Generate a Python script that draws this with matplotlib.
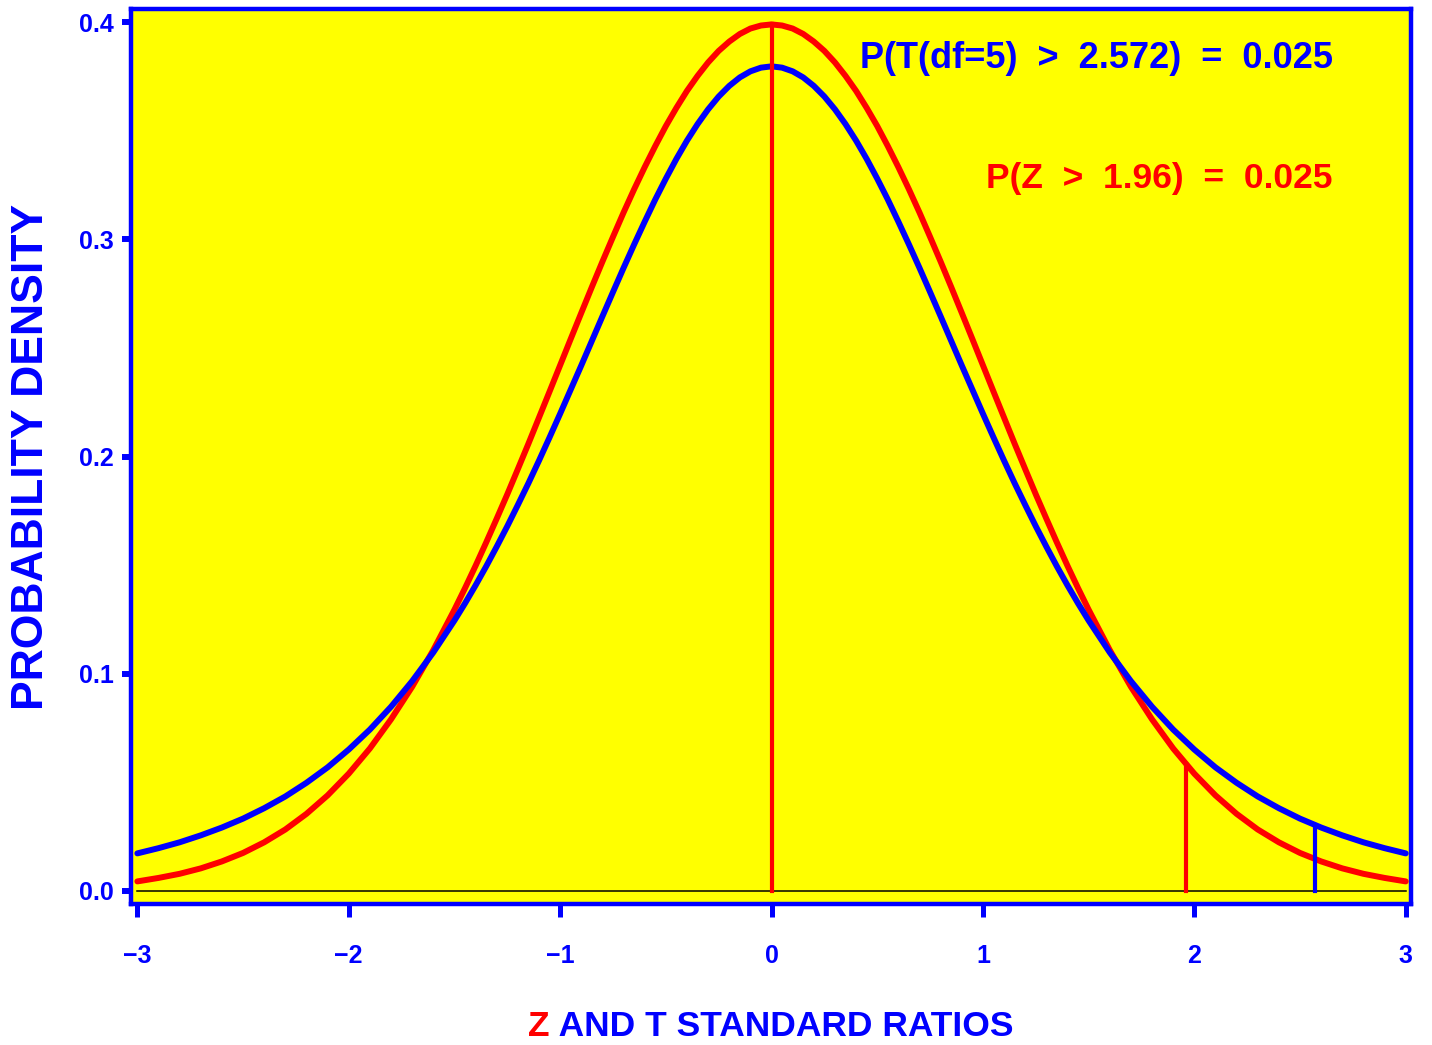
import matplotlib
matplotlib.use("Agg")
import matplotlib.pyplot as plt

#--------------------------------------------------------------------------------------
#Data
z_vals=[-3.0,-2.9,-2.8,-2.7,-2.6,-2.5,-2.4,-2.3,-2.2,-2.1,-2.0,-1.9,-1.8,-1.7,-1.6,
        -1.5,-1.45,-1.4,-1.35,-1.3,-1.25,-1.2,-1.15,-1.1,-1.05,-1.0,-0.95,-0.9,-0.85,
        -0.8,-0.75,-0.7,-0.65,-0.6,-0.55,-0.5,-0.45,-0.4,-0.35,-0.3,-0.25,-0.2,-0.15,
        -0.1,-0.05,0.0,0.05,0.1,0.15,0.2,0.25,0.3,0.35,0.4,0.45,0.5,0.55,0.6,0.65,0.7,
        0.75,0.8,0.85,0.9,0.95,1.0,1.05,1.1,1.15,1.2,1.25,1.3,1.35,1.4,1.45,1.5,
        1.6,1.7,1.8,1.9,2.0,2.1,2.2,2.3,2.4,2.5,2.6,2.7,2.8,2.9,3.0]
normal_dens=[0.0044,0.0060,0.0079,0.0104,0.0136,0.0175,0.0224,0.0283,0.0355,0.0440,
             0.0540,0.0656,0.0790,0.0940,0.1109,
             0.1295,0.1394,0.1497,0.1604,0.1714,0.1826,0.1942,0.2059,0.2179,0.2299,
             0.2420,0.2541,0.2661,0.2780,0.2897,0.3011,0.3123,0.3230,0.3332,0.3429,
             0.3521,0.3605,0.3683,0.3752,0.3814,0.3867,0.3910,0.3945,0.3970,0.3984,
             0.3989,
             0.3984,0.3970,0.3945,0.3910,0.3867,0.3814,0.3752,0.3683,0.3605,0.3521,
             0.3429,0.3332,0.3230,0.3123,0.3011,0.2897,0.2780,0.2661,0.2541,0.2420,
             0.2299,0.2179,0.2059,0.1942,0.1826,0.1714,0.1604,0.1497,0.1394,0.1295,
             0.1109,0.0940,0.0790,0.0656,0.0540,0.0440,0.0355,0.0283,0.0224,0.0175,
             0.0136,0.0104,0.0079,0.0060,0.0044]
t5_dens=[0.0173,0.0197,0.0224,0.0256,0.0292,0.0333,0.0381,0.0435,0.0498,0.0569,
         0.0651,0.0743,0.0848,0.0966,0.1098,
         0.1245,0.1324,0.1407,0.1494,0.1585,0.1679,0.1777,0.1877,0.1981,0.2088,
         0.2197,0.2308,0.2419,0.2532,0.2645,0.2757,0.2868,0.2976,0.3081,0.3183,
         0.3279,0.3370,0.3454,0.3530,0.3598,0.3657,0.3706,0.3745,0.3773,0.3790,
         0.3796,
         0.3790,0.3773,0.3745,0.3706,0.3657,0.3598,0.3530,0.3454,0.3370,0.3279,
         0.3183,0.3081,0.2976,0.2868,0.2757,0.2645,0.2532,0.2419,0.2308,0.2197,
         0.2088,0.1981,0.1877,0.1777,0.1679,0.1585,0.1494,0.1407,0.1324,0.1245,
         0.1098,0.0966,0.0848,0.0743,0.0651,0.0569,0.0498,0.0435,0.0381,0.0333,
         0.0292,0.0256,0.0224,0.0197,0.0173]

#reference lines: (x, top, colour)
ref_x=[0.0,1.96,2.572]
ref_top=[0.3989,0.0584,0.0303]
ref_col=["red","red","blue"]

x_ticks=[-3,-2,-1,0,1,2,3]
y_ticks=[0.0,0.1,0.2,0.3,0.4]

t_label="P(T(df=5)  >  2.572)  =  0.025"
z_label="P(Z  >  1.96)  =  0.025"

#--------------------------------------------------------------------------------------
#Style
BLUE="#0000FF"
RED="#FF0000"
YEL="#FFFF00"
FONT=["Liberation Sans","DejaVu Sans"]

fig=plt.figure(figsize=(14.32,10.45),dpi=100)
ax=fig.add_axes([131/1432,1-904/1045,1280/1432,895/1045])
ax.set_facecolor(YEL)

ax.plot(z_vals,normal_dens,color=RED,lw=4.3,solid_capstyle="round",zorder=3)
ax.plot(z_vals,t5_dens,color=BLUE,lw=4.3,solid_capstyle="round",zorder=3)
for i in range(len(ref_x)):
    ax.plot([ref_x[i],ref_x[i]],[0,ref_top[i]],color=ref_col[i],lw=3.0,zorder=4)
ax.plot([z_vals[0],z_vals[-1]],[0,0],color="black",lw=1.1,zorder=2)

ax.set_xlim(-3.03,3.025)
ax.set_ylim(-0.006,0.406)

for s in ax.spines.values():
    s.set_color(BLUE)
    s.set_linewidth(3.2)

ax.set_xticks(x_ticks)
ax.set_xticklabels(["\u2212"+str(-v) if v<0 else str(v) for v in x_ticks])
ax.set_yticks(y_ticks)
ax.set_yticklabels(["%.1f"%v for v in y_ticks])
ax.tick_params(axis="x",direction="out",length=9.5,width=3.6,color=BLUE,pad=19)
ax.tick_params(axis="y",direction="out",length=6.5,width=4.3,color=BLUE,pad=6)
for lab in ax.get_xticklabels()+ax.get_yticklabels():
    lab.set_family(FONT)
    lab.set_fontweight("bold")
    lab.set_fontsize(18)
    lab.set_color(BLUE)

#annotations in upper right
fig.text(1333/1432,1-68/1045,t_label,ha="right",va="baseline",color=BLUE,
         family=FONT,fontweight="bold",fontsize=26)
fig.text(1333/1432,1-188/1045,z_label,ha="right",va="baseline",color=RED,
         family=FONT,fontweight="bold",fontsize=25.5)

#axis titles
fig.text(32/1432,1-457/1045,"PROBABILITY DENSITY",rotation=90,ha="center",va="center",
         color=BLUE,family=FONT,fontweight="bold",fontsize=32)
zt=fig.text(528/1432,1-1036/1045,"Z",ha="left",va="baseline",color=RED,
            family=FONT,fontweight="bold",fontsize=25.5)
ax.annotate(" AND T STANDARD RATIOS",xy=(1,0),xycoords=zt,ha="left",va="bottom",
            color=BLUE,family=FONT,fontweight="bold",fontsize=25.5,annotation_clip=False)

fig.savefig("out.png",dpi=100,facecolor="white")
